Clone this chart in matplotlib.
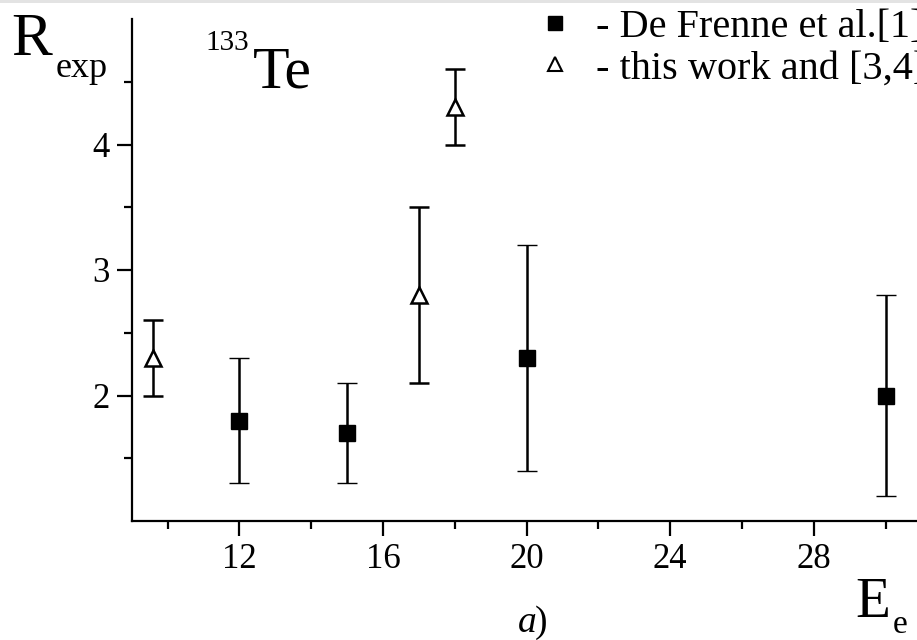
import matplotlib
matplotlib.use("Agg")
import matplotlib.pyplot as plt
from matplotlib.lines import Line2D
from matplotlib.patches import Rectangle
from matplotlib.ticker import MultipleLocator, FixedLocator

# De Frenne et al. [1]
e_frenne = [12, 15, 20, 30]
r_frenne = [1.8, 1.7, 2.3, 2.0]
err_frenne = [0.5, 0.4, 0.9, 0.8]

# this work and [3,4]
e_work = [9.6, 17, 18]
r_work = [2.3, 2.8, 4.3]
err_work = [0.3, 0.7, 0.3]

label_frenne = "- De Frenne et al.[1]"
label_work = "- this work and [3,4]"

W, H = 917, 640
plt.rcParams['font.family'] = ['Liberation Serif', 'DejaVu Serif']

fig = plt.figure(figsize=(W / 100, H / 100), dpi=100)


def fx(x):
    return x / W


def fy(y):
    return 1 - y / H


# thin grey strip along the top edge
fig.patches.append(Rectangle((0, fy(3)), 1, 3 / H, transform=fig.transFigure,
                             facecolor='#e3e3e3', edgecolor='none'))

ax = fig.add_axes([fx(131.6), fy(521), 790 / W, 502 / H])
ax.set_xlim(9, 31)
ax.set_ylim(1, 5)

kw = dict(color='black', elinewidth=1.8, capsize=7, capthick=1.8, ls='none')
ax.errorbar(e_frenne, r_frenne, yerr=err_frenne, marker='s', ms=11, mew=1, **kw)
ax.errorbar(e_work, r_work, yerr=err_work, marker='^', ms=11.5, mfc='white',
            mec='black', mew=1.8, **kw)

for s in ['top', 'right']:
    ax.spines[s].set_visible(False)
for s in ['left', 'bottom']:
    ax.spines[s].set_linewidth(1.6)

ax.xaxis.set_major_locator(MultipleLocator(4))
ax.xaxis.set_minor_locator(MultipleLocator(2))
ax.yaxis.set_major_locator(FixedLocator([2, 3, 4]))
ax.yaxis.set_minor_locator(FixedLocator([1.5, 2.5, 3.5, 4.5]))
ax.tick_params(which='major', direction='out', length=10.5, width=1.6, labelsize=25)
ax.tick_params(which='minor', direction='out', length=5.5, width=1.6)
ax.tick_params(axis='x', which='major', pad=5)
ax.tick_params(axis='y', which='major', pad=5)

# legend: marker only, no error bars
handles = [Line2D([], [], ls='none', marker='s', color='black', ms=10),
           Line2D([], [], ls='none', marker='^', mfc='white', mec='black', mew=1.5, ms=9.5)]
fig.legend(handles, [label_frenne, label_work], loc='upper left',
           bbox_to_anchor=(fx(536), fy(9)), frameon=False, fontsize=29,
           handlelength=0.95, handletextpad=0.55, labelspacing=0.1,
           borderpad=0, borderaxespad=0)

# axis titles and labels
fig.text(fx(11), fy(55), "R", fontsize=44, va='baseline')
fig.text(fx(56), fy(77), "exp", fontsize=26, va='baseline')
fig.text(fx(205), fy(50), "133", fontsize=21, va='baseline')
fig.text(fx(253), fy(87), "Te", fontsize=43, va='baseline')
fig.text(fx(855), fy(617), "E", fontsize=41, va='baseline')
fig.text(fx(893), fy(640), "e", fontsize=24, va='bottom')
fig.text(fx(518), fy(632), "a", fontsize=27, style='italic', va='baseline')
fig.text(fx(535), fy(632), ")", fontsize=27, va='baseline')

fig.savefig("out.png", dpi=100)
